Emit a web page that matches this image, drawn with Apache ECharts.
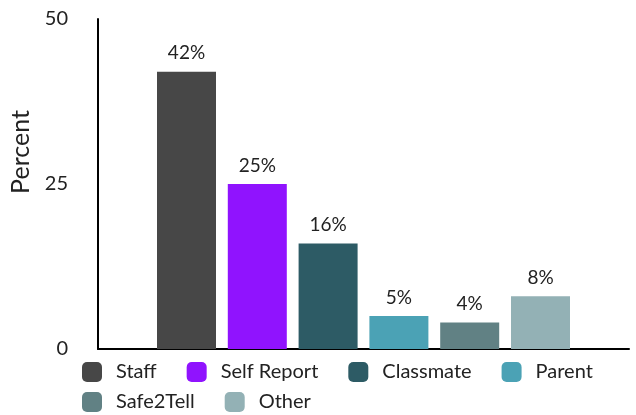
<!DOCTYPE html>
<html><head><meta charset="utf-8">
<script src="https://cdn.jsdelivr.net/npm/echarts@6/dist/echarts.min.js"></script>
<style>html,body{margin:0;padding:0;background:#fff}#c{width:636px;height:415px}</style>
</head><body><div id="c"></div>
<script>
const seriesNames = ['Staff','Self Report','Classmate','Parent','Safe2Tell','Other'];
const seriesValues = [42, 25, 16, 5, 4, 8];
const colors = ['#474747','#9013FE','#2D5B65','#4BA2B5','#618184','#93B1B5'];
const yTicks = [0, 25, 50];

const chart = echarts.init(document.getElementById('c'));
const font = 'Lato';
const legendBase = {
  icon: 'roundRect', itemWidth: 20, itemHeight: 20, itemGap: 30, padding: 0,
  textStyle: {fontFamily: font, fontSize: 20, color: '#222', padding: [0,0,0,9], lineHeight: 20},
  selectedMode: false
};
chart.setOption({
  animation: false,
  grid: {left: 98, right: 7, top: 19, bottom: 66, containLabel: false, outerBoundsMode: 'none'},
  legend: [
    Object.assign({}, legendBase, {left: 82, top: 362, data: seriesNames.slice(0,4)}),
    Object.assign({}, legendBase, {left: 82, top: 392, data: seriesNames.slice(4)})
  ],
  xAxis: {type: 'category', data: [''],
    axisLine: {lineStyle: {color: '#000', width: 2}}, axisTick: {show: false}, axisLabel: {show: false}},
  yAxis: {type: 'value', min: yTicks[0], max: yTicks[yTicks.length-1], interval: 25,
    name: 'Percent', nameLocation: 'middle', nameGap: 57,
    nameTextStyle: {fontFamily: font, fontSize: 25, color: '#222', padding: [0,0,0,64]},
    axisLine: {show: true, lineStyle: {color: '#000', width: 2}}, axisTick: {show: false},
    splitLine: {show: false},
    axisLabel: {fontFamily: font, fontSize: 20, color: '#222', margin: 30}},
  series: seriesNames.map((n, i) => ({
    name: n, type: 'bar', barWidth: 59, barGap: '20%',
    itemStyle: {color: colors[i]},
    label: {show: true, position: 'top', distance: 9, formatter: '{c}%',
      fontFamily: font, fontSize: 19, color: '#222'},
    data: [seriesValues[i]]
  }))
});
</script></body></html>
